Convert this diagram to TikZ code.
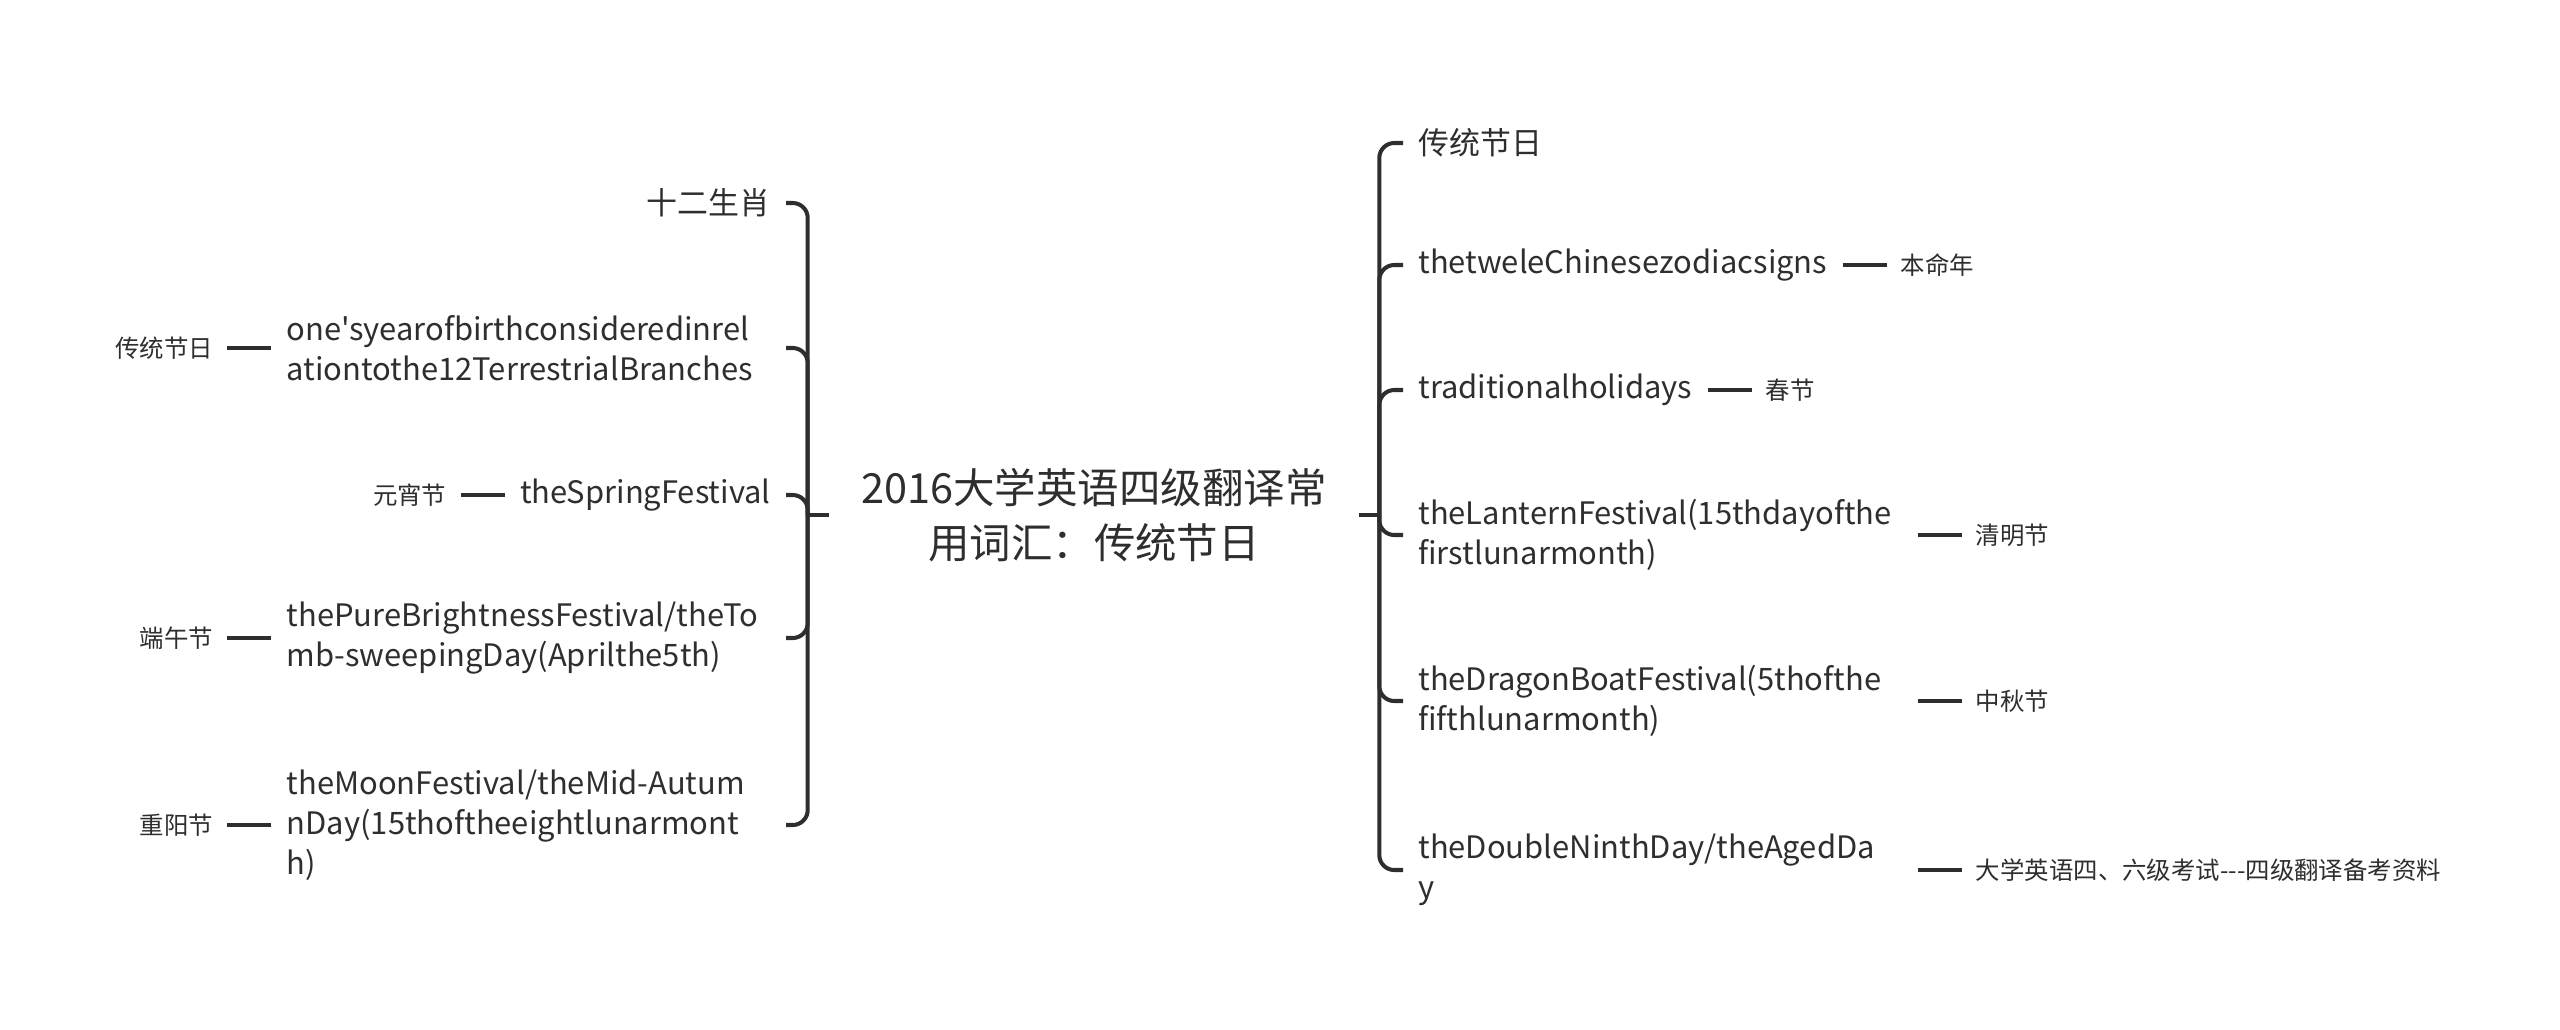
\documentclass[tikz,border=0pt]{standalone}
\usepackage{fontspec}
\newfontfamily\cjk{Noto Sans CJK SC}
\usetikzlibrary{positioning}
\definecolor{inkgray}{HTML}{2E2E2E}

\begin{document}
\begin{tikzpicture}[
  x=0.02cm, y=-0.02cm,
  hubbox/.style={text width=9.36cm, align=center, inner xsep=0.62cm, inner ysep=0pt, font=\cjk\fontsize{23.6pt}{31.2pt}\selectfont, text=inkgray},
  kidbox/.style={inner xsep=0.3cm, inner ysep=2pt, font=\cjk\fontsize{17.6pt}{22.7pt}\selectfont, text=inkgray},
  widebox/.style={kidbox, text width=9.68cm, align=left},
  leafbox/.style={inner xsep=0.28cm, font=\cjk\fontsize{13.9pt}{17pt}\selectfont, text=inkgray},
  link/.style={draw=inkgray, line width=2.3pt, rounded corners=0.3cm},
  twig/.style={draw=inkgray, line width=2.3pt}
]
  \useasboundingbox (0,0) rectangle (2560,1029);

  % Central topic
  \node[hubbox] (hub) at (1094,515) {2016大学英语四级翻译常\\用词汇：传统节日};

  % Left branches
  \node[kidbox, anchor=east] (l1) at (786,203) {十二生肖};
  \node[widebox, anchor=east] (l2) at (786,348) {one'syearofbirthconsideredinrel\\ationtothe12TerrestrialBranches};
  \node[kidbox, anchor=east] (l3) at (786,495) {theSpringFestival};
  \node[widebox, anchor=east] (l4) at (786,638) {thePureBrightnessFestival/theTo\\mb-sweepingDay(Aprilthe5th)};
  \node[widebox, anchor=east] (l5) at (786,825) {theMoonFestival/theMid-Autum\\nDay(15thoftheeightlunarmont\\h)};

  % Right branches
  \node[kidbox, anchor=west] (r1) at (1403,143) {传统节日};
  \node[kidbox, anchor=west] (r2) at (1403,265) {thetweleChinesezodiacsigns};
  \node[kidbox, anchor=west] (r3) at (1403,390) {traditionalholidays};
  \node[widebox, anchor=west] (r4) at (1403,535) {theLanternFestival(15thdayofthe\\firstlunarmonth)};
  \node[widebox, anchor=west] (r5) at (1403,701) {theDragonBoatFestival(5thofthe\\fifthlunarmonth)};
  \node[widebox, anchor=west] (r6) at (1403,870) {theDoubleNinthDay/theAgedDa\\y};

  % Leaves
  \node[leafbox, left=0.88cm of l2] (l2a) {传统节日};
  \node[leafbox, left=0.88cm of l3] (l3a) {元宵节};
  \node[leafbox, left=0.88cm of l4] (l4a) {端午节};
  \node[leafbox, left=0.88cm of l5] (l5a) {重阳节};
  \node[leafbox, right=0.88cm of r2] (r2a) {本命年};
  \node[leafbox, right=0.88cm of r3] (r3a) {春节};
  \node[leafbox, right=0.88cm of r4] (r4a) {清明节};
  \node[leafbox, right=0.88cm of r5] (r5a) {中秋节};
  \node[leafbox, right=0.88cm of r6] (r6a) {大学英语四、六级考试---四级翻译备考资料};

  % Brackets
  \coordinate (lj) at ([xshift=-0.42cm]hub.west);
  \coordinate (rj) at ([xshift=0.4cm]hub.east);
  \draw[twig] (hub.west) -- (lj);
  \draw[twig] (hub.east) -- (rj);
  \foreach \k in {l1,l2,l3,l4,l5}
    \draw[link] (lj) |- (\k.east);
  \foreach \k in {r1,r2,r3,r4,r5,r6}
    \draw[link] (rj) |- (\k.west);

  % Leaf links
  \foreach \k in {l2,l3,l4,l5}
    \draw[twig] (\k.west) -- (\k a.east);
  \foreach \k in {r2,r3,r4,r5,r6}
    \draw[twig] (\k.east) -- (\k a.west);
\end{tikzpicture}
\end{document}
